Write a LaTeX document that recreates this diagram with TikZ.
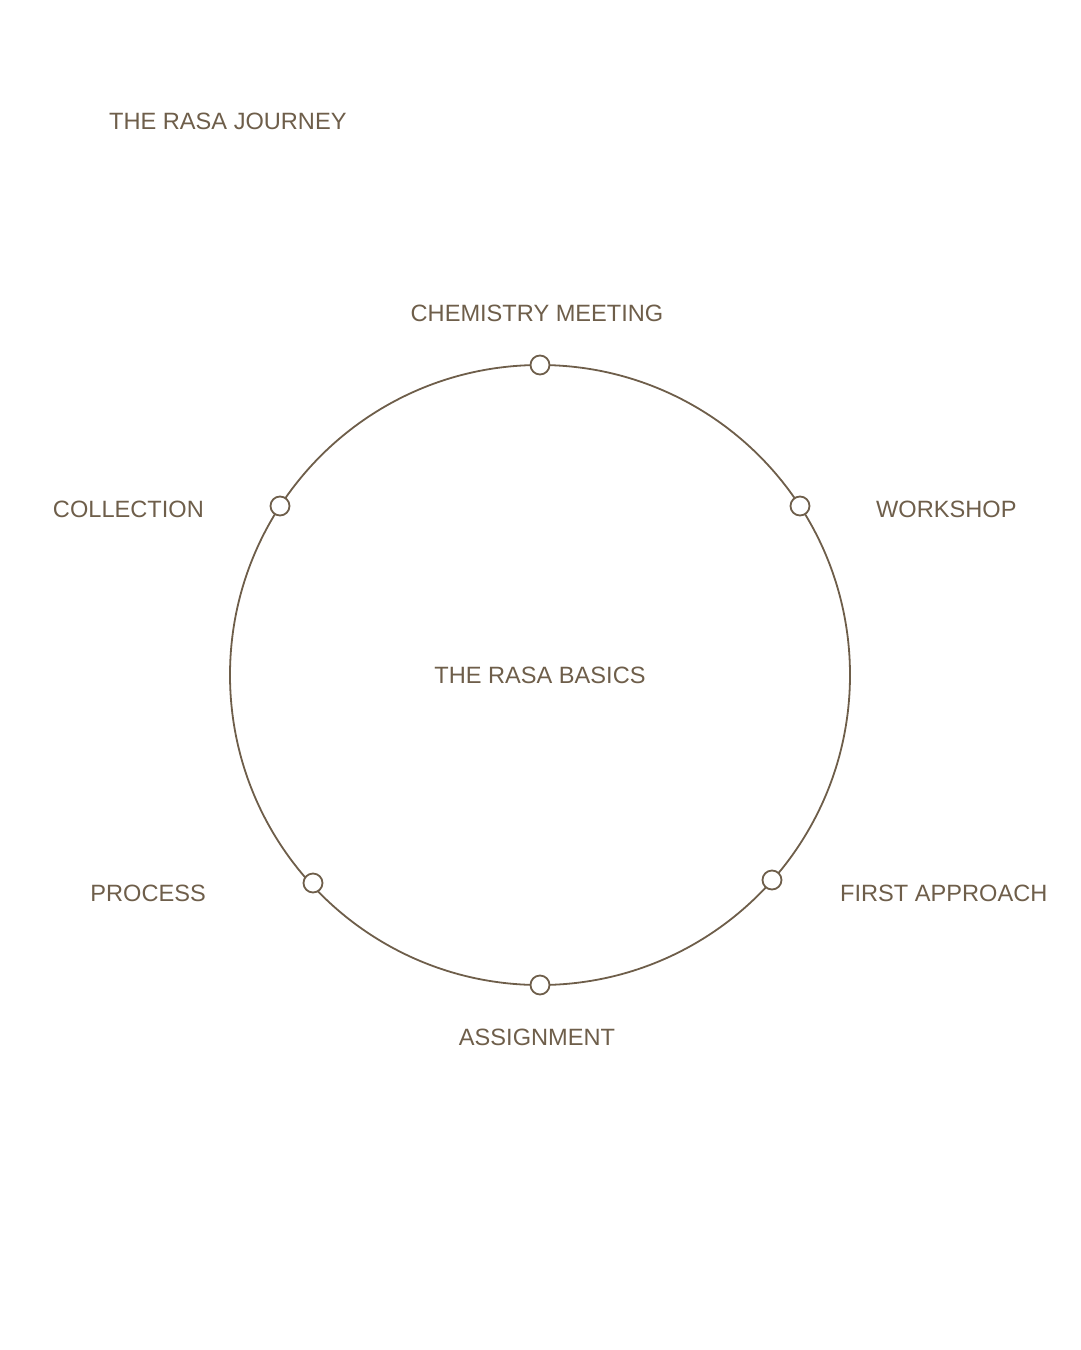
\documentclass[tikz,border=0pt]{standalone}
\usepackage{fontspec}
\setmainfont{Liberation Sans}
\definecolor{rasa}{HTML}{6E5E4A}
\begin{document}
\begin{tikzpicture}[x=1pt,y=-1pt,
  lbl/.style={text=rasa,font=\fontsize{23.6}{28}\selectfont,inner sep=0pt,anchor=base},
  dot/.style={circle,draw=rasa,fill=white,line width=1.8pt,minimum size=19pt,inner sep=0pt}]
\useasboundingbox (0,0) rectangle (1080,1350);
\node[lbl,anchor=base west] (title) at (109,129) {THE RASA JOURNEY};
\node[circle,draw=rasa,line width=1.8pt,minimum size=620pt,inner sep=0pt] (ring) at (540,675) {};
\node[lbl] (basics) at (540,683) {THE RASA BASICS};
\node[dot] (d1) at (540,365) {};
\node[dot] (d2) at (800,506) {};
\node[dot] (d3) at (772,880) {};
\node[dot] (d4) at (540,985) {};
\node[dot] (d5) at (313,883) {};
\node[dot] (d6) at (280,506) {};
\node[lbl] (l1) at (537,321) {CHEMISTRY MEETING};
\node[lbl,anchor=base west] (l2) at (876,517) {WORKSHOP};
\node[lbl,anchor=base west] (l3) at (840,901) {FIRST APPROACH};
\node[lbl] (l4) at (537,1045) {ASSIGNMENT};
\node[lbl,anchor=base east] (l5) at (206,901) {PROCESS};
\node[lbl,anchor=base east] (l6) at (204,517) {COLLECTION};
\end{tikzpicture}
\end{document}
